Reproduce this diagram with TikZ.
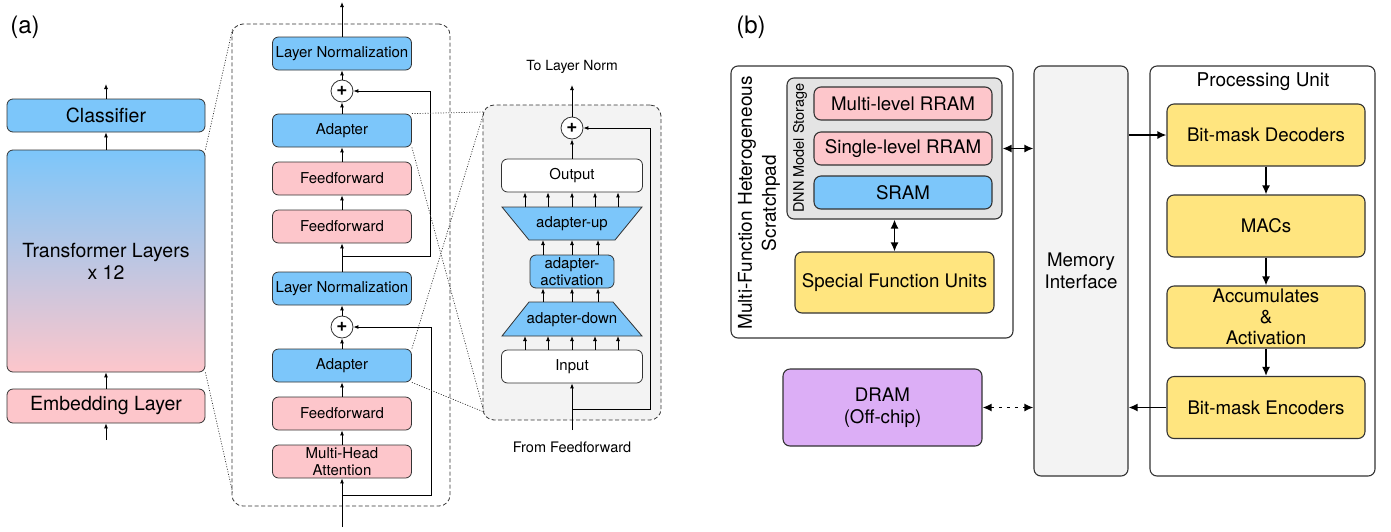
\documentclass[tikz,border=0pt]{standalone}
\usepackage{fontspec}
\setmainfont{TeX Gyre Heros}
\usetikzlibrary{arrows.meta,calc}
\definecolor{bl}{HTML}{7CC6FA}
\definecolor{pk}{HTML}{FDC6CB}
\definecolor{yl}{HTML}{FFE57F}
\definecolor{pu}{HTML}{DCAEF6}
\definecolor{bd}{HTML}{333333}
\definecolor{lg}{HTML}{F3F3F3}
\definecolor{mg}{HTML}{E4E4E4}
\begin{document}
\begin{tikzpicture}[x=1pt,y=-1pt,
  box/.style={draw=bd, line width=0.8pt, rounded corners=6pt, inner sep=0pt, align=center},
  lbox/.style={box, minimum width=198pt, font=\fontsize{19.5}{22}\selectfont},
  mbox/.style={box, minimum width=139pt, minimum height=33pt, font=\fontsize{15}{16.5}\selectfont},
  ar/.style={-{Latex[length=5pt,width=4pt]}, line width=0.85pt},
  pl/.style={circle, draw=bd, line width=0.8pt, fill=white, minimum size=22pt, inner sep=0pt, font=\fontsize{19}{19}\selectfont\bfseries},
  dbox/.style={draw=bd, line width=0.8pt, dash pattern=on 4pt off 2.5pt, rounded corners=11pt, inner sep=0pt},
  dotl/.style={draw=bd, line width=0.7pt, dash pattern=on 1pt off 1.6pt},
  trap/.style={fill=bl, draw=bd, line width=0.8pt},
  bbox/.style={draw=bd, line width=1.1pt, rounded corners=7pt, inner sep=0pt, align=center, font=\fontsize{18.7}{22}\selectfont},
  bar/.style={line width=1.6pt, -{Latex[length=9pt,width=8pt]}},
  bbar/.style={line width=1.6pt, {Latex[length=9pt,width=8pt]}-{Latex[length=9pt,width=8pt]}},
  lab/.style={font=\fontsize{24}{24}\selectfont, inner sep=0pt}
]
\useasboundingbox (0,0) rectangle (1391,531);

% ---------- (a) ----------
\node[lab] (la) at (25,27) {(a)};
\node[lbox, fill=bl, minimum height=33pt] (cls) at (106,115.5) {Classifier};
\node[lbox, top color=bl, bottom color=pk, minimum height=222pt] (tr) at (106,261) {Transformer Layers\\x 12};
\node[lbox, fill=pk, minimum height=34pt] (emb) at (106,406) {Embedding Layer};
\coordinate (embin) at (106,440);
\coordinate (clsout) at (106,84);
\draw[ar] (embin) -- (emb);
\draw[ar] (emb) -- (tr);
\draw[ar] (tr) -- (cls);
\draw[ar] (cls) -- (clsout);

% middle block
\node[dbox, minimum width=218pt, minimum height=482pt] (blk) at (341,265) {};
\draw[dotl] (tr.north east) -- ($(blk.north west)+(1,5)$);
\draw[dotl] (tr.south east) -- ($(blk.south west)+(1,-14)$);

\node[mbox, fill=bl] (ln1) at (342,53.5) {Layer Normalization};
\node[pl] (p1) at (342,91) {+};
\node[mbox, fill=bl] (ad1) at (342,130.5) {Adapter};
\node[mbox, fill=pk] (ff1) at (342,178.5) {Feedforward};
\node[mbox, fill=pk] (ff2) at (342,226.5) {Feedforward};
\node[mbox, fill=bl] (ln2) at (342,288.5) {Layer Normalization};
\node[pl] (p2) at (342,327) {+};
\node[mbox, fill=bl] (ad2) at (342,365.5) {Adapter};
\node[mbox, fill=pk] (ff3) at (342,413.5) {Feedforward};
\node[mbox, fill=pk] (mha) at (342,461.5) {Multi-Head\\Attention};
\coordinate (blkin) at (342,527);
\coordinate (blkout) at (342,2);
\coordinate (r1) at (342,256);
\coordinate (r2) at (342,495);

\draw[ar] (blkin) -- (mha);
\draw[ar] (mha) -- (ff3);
\draw[ar] (ff3) -- (ad2);
\draw[ar] (ad2) -- (p2);
\draw[ar] (p2) -- (ln2);
\draw[ar] (ln2) -- (ff2);
\draw[ar] (ff2) -- (ff1);
\draw[ar] (ff1) -- (ad1);
\draw[ar] (ad1) -- (p1);
\draw[ar] (p1) -- (ln1);
\draw[ar] (ln1) -- (blkout);
\draw[ar] (r1) -- ++(88,0) |- (p1.east);
\draw[ar] (r2) -- ++(89,0) |- (p2.east);

% adapter detail
\node[dbox, fill=lg, minimum width=178pt, minimum height=315pt] (det) at (572,262.5) {};
\coordinate (dtl) at (484,112);
\coordinate (dbl) at (484,412);
\draw[dotl] (ad1.north east) -- (dtl);
\draw[dotl] (ad1.south east) -- (dbl);
\draw[dotl] (ad2.north east) -- (dtl);
\draw[dotl] (ad2.south east) -- (dbl);

\node[pl] (p3) at (572,128) {+};
\node[mbox, fill=white, minimum width=141pt] (out) at (572,175.5) {Output};
\filldraw[trap] (502,207) -- (642,207) -- (615,240) -- (529,240) -- cycle;
\node[font=\fontsize{15}{16.5}\selectfont] (up) at (572,223.5) {adapter-up};
\node[mbox, fill=bl, minimum width=84pt] (act) at (572,271.5) {adapter-\\activation};
\filldraw[trap] (529,302) -- (613,302) -- (642,336) -- (502,336) -- cycle;
\node[font=\fontsize{15}{16.5}\selectfont] (dn) at (572,319.5) {adapter-down};
\node[mbox, fill=white, minimum width=141pt] (inp) at (572,366.5) {Input};
\coordinate (upT) at (572,207);
\coordinate (upB) at (572,240);
\coordinate (dnT) at (572,302);
\coordinate (dnB) at (572,336);
\foreach \dx in {-47pt,-24pt,0pt,23pt,46pt}{
  \draw[ar] ([xshift=\dx]inp.north) -- ([xshift=\dx]dnB);
  \draw[ar] ([xshift=\dx]upT) -- ([xshift=\dx]out.south);
}
\foreach \dx in {-29pt,0pt,26pt}{
  \draw[ar] ([xshift=\dx]dnT) -- ([xshift=\dx]act.south);
  \draw[ar] ([xshift=\dx]act.north) -- ([xshift=\dx]upB);
}
\draw[ar] (out) -- (p3);
\coordinate (tlo) at (572,85);
\draw[ar] (p3) -- (tlo);
\node[font=\fontsize{14}{16}\selectfont] (tln) at (572,67) {To Layer Norm};
\coordinate (ffi) at (572,430);
\draw[ar] (ffi) -- (inp);
\node[font=\fontsize{14.5}{16}\selectfont] (fff) at (572,447) {From Feedforward};
\coordinate (r3) at (572,409);
\draw[ar] (r3) -- ++(78,0) |- (p3.east);

% ---------- (b) ----------
\node[lab] (lb) at (751,27) {(b)};
\node[bbox, fill=white, minimum width=282pt, minimum height=272pt] (spad) at (872,202) {};
\node[rotate=90, align=center, font=\fontsize{19}{24}\selectfont] (spt) at (759,203) {Multi-Function Heterogeneous\\Scratchpad};
\node[bbox, fill=mg, minimum width=215pt, minimum height=141pt] (dnn) at (894.5,148.5) {};
\node[rotate=90, font=\fontsize{14.5}{16}\selectfont] (dnnl) at (800,148) {DNN Model Storage};
\node[bbox, fill=pk, minimum width=178pt, minimum height=33pt] (ml) at (903,103.5) {Multi-level RRAM};
\node[bbox, fill=pk, minimum width=178pt, minimum height=33pt] (sl) at (903,148.5) {Single-level RRAM};
\node[bbox, fill=bl, minimum width=178pt, minimum height=33pt] (sram) at (903,192.5) {SRAM};
\node[bbox, fill=yl, minimum width=199pt, minimum height=61pt] (sfu) at (894.5,282.5) {Special Function Units};
\draw[bbar] (dnn) -- (sfu);

\node[bbox, fill=lg, minimum width=94pt, minimum height=410pt] (mi) at (1081,271) {Memory\\Interface};
\draw[bbar] (dnn.east) -- (dnn.east -| mi.west);

\node[bbox, fill=white, minimum width=225pt, minimum height=410pt] (pu) at (1262.5,271) {};
\node[font=\fontsize{19}{22}\selectfont] (pul) at (1263,82) {Processing Unit};
\node[bbox, fill=yl, minimum width=198pt, minimum height=62pt] (dec) at (1266,135) {Bit-mask Decoders};
\node[bbox, fill=yl, minimum width=198pt, minimum height=62pt] (mac) at (1266,226) {MACs};
\node[bbox, fill=yl, minimum width=198pt, minimum height=62pt, font=\fontsize{18.7}{21}\selectfont] (acc) at (1266,317) {Accumulates\\\&\\Activation};
\node[bbox, fill=yl, minimum width=198pt, minimum height=62pt] (enc) at (1266,407.5) {Bit-mask Encoders};
\draw[bar] (dec) -- (mac);
\draw[bar] (mac) -- (acc);
\draw[bar] (acc) -- (enc);
\draw[bar] (dec.west -| mi.east) -- (dec.west);
\draw[bar] (enc.west) -- (enc.west -| mi.east);

\node[bbox, fill=pu, minimum width=199pt, minimum height=77pt] (dram) at (882.5,407.5) {DRAM\\(Off-chip)};
\draw[bbar, dash pattern=on 3pt off 5pt] (dram.east) -- (dram.east -| mi.west);
\end{tikzpicture}
\end{document}
